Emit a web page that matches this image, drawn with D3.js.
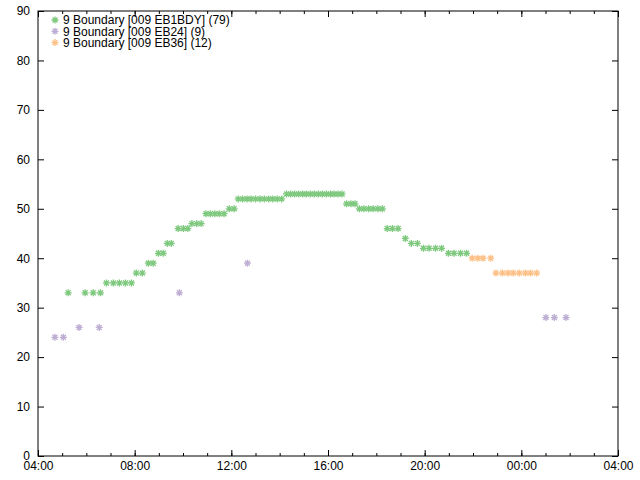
<!DOCTYPE html>
<html>
<head>
<meta charset="utf-8">
<script src="https://cdn.jsdelivr.net/npm/d3@7"></script>
<style>
    body { margin: 0; background: #fff; }
    svg { display: block; font-family: "Liberation Sans", Arial, sans-serif; }
</style>
</head>
<body>
<div id="chart"></div>
<script>
// series names and colours
const seriesNames = ['9 Boundary [009 EB1BDY] (79)', '9 Boundary [009 EB24] (9)', '9 Boundary [009 EB36] (12)'];
const seriesColors = ['#7fc97f', '#beaed4', '#fdc086'];

// 009 EB1BDY
const eb1bdyTimes = ['05:15', '05:57', '06:17', '06:35', '06:50', '07:07', '07:22', '07:37', '07:52', '08:04',
    '08:19', '08:34', '08:46', '08:59', '09:11', '09:21', '09:31', '09:48', '10:01', '10:12',
    '10:22', '10:34', '10:45', '10:57', '11:08', '11:19', '11:30', '11:42', '11:55', '12:07',
    '12:17', '12:28', '12:39', '12:49', '13:00', '13:11', '13:22', '13:33', '13:43', '13:54', '14:05',
    '14:17', '14:27', '14:37', '14:47', '14:57', '15:06', '15:16', '15:26', '15:36', '15:46', '15:56', '16:06', '16:15', '16:25', '16:35',
    '16:46', '16:57', '17:07', '17:18', '17:29', '17:41', '17:52', '18:04', '18:15',
    '18:27', '18:40', '18:54', '19:12', '19:27', '19:42', '19:57', '20:11', '20:27', '20:42',
    '20:59', '21:13', '21:29', '21:44'];
const eb1bdyValues = [33, 33, 33, 33, 35, 35, 35, 35, 35, 37,
    37, 39, 39, 41, 41, 43, 43, 46, 46, 46,
    47, 47, 47, 49, 49, 49, 49, 49, 50, 50,
    52, 52, 52, 52, 52, 52, 52, 52, 52, 52, 52,
    53, 53, 53, 53, 53, 53, 53, 53, 53, 53, 53, 53, 53, 53, 53,
    51, 51, 51, 50, 50, 50, 50, 50, 50,
    46, 46, 46, 44, 43, 43, 42, 42, 42, 42,
    41, 41, 41, 41];

// 009 EB24
const eb24Times = ['04:42', '05:03', '05:42', '06:32', '09:51', '12:40', '01:01', '01:22', '01:51'];
const eb24Values = [24, 24, 26, 26, 33, 39, 28, 28, 28];

// 009 EB36
const eb36Times = ['21:58', '22:12', '22:25', '22:44', '22:57', '23:13', '23:27', '23:40', '23:55', '00:10', '00:23', '00:38'];
const eb36Values = [40, 40, 40, 40, 37, 37, 37, 37, 37, 37, 37, 37];

const yTicks = [0, 10, 20, 30, 40, 50, 60, 70, 80, 90];

const parseTime = d3.timeParse('%Y-%m-%d %H:%M');
function toDate(t) {
    // times before 04:00 belong to the next day
    const day = +t.slice(0, 2) < 4 ? '2000-01-02' : '2000-01-01';
    return parseTime(day + ' ' + t);
}

function makeSeries(times, values) {
    return times.map((t, i) => ({ date: toDate(t), value: values[i] }));
}

const seriesData = [
    makeSeries(eb1bdyTimes, eb1bdyValues),
    makeSeries(eb24Times, eb24Values),
    makeSeries(eb36Times, eb36Values)
];

function createChart() {
    const margin = {top: 11, right: 22, bottom: 24, left: 38};
    const width = 640 - margin.left - margin.right;
    const height = 480 - margin.top - margin.bottom;

    const svg = d3.select('#chart')
        .append('svg')
        .attr('width', 640)
        .attr('height', 480)
        .append('g')
        .attr('transform', `translate(${margin.left},${margin.top})`);

    const x = d3.scaleTime()
        .domain([parseTime('2000-01-01 04:00'), parseTime('2000-01-02 04:00')])
        .range([0, width]);

    const y = d3.scaleLinear()
        .domain([0, 90])
        .range([height, 0]);

    const fmt = d3.timeFormat('%H:%M');
    const majorX = x.ticks(d3.timeHour.every(4));
    const minorX = x.ticks(d3.timeHour.every(1));

    // bottom axis with labels, ticks pointing inward
    const bottom = svg.append('g')
        .attr('transform', `translate(0,${height})`)
        .call(d3.axisBottom(x).tickValues(majorX).tickFormat(fmt).tickSize(-6).tickPadding(4));
    bottom.selectAll('text').attr('dy', '0.71em').attr('y', 5);
    svg.append('g')
        .attr('transform', `translate(0,${height})`)
        .call(d3.axisBottom(x).tickValues(minorX).tickFormat('').tickSize(-3));

    // mirrored top ticks
    svg.append('g')
        .call(d3.axisTop(x).tickValues(majorX).tickFormat('').tickSize(-6));
    svg.append('g')
        .call(d3.axisTop(x).tickValues(minorX).tickFormat('').tickSize(-3));

    // left axis with labels, right mirrored
    svg.append('g')
        .call(d3.axisLeft(y).tickValues(yTicks).tickSize(-6).tickPadding(8));
    svg.append('g')
        .attr('transform', `translate(${width},0)`)
        .call(d3.axisRight(y).tickValues(yTicks).tickFormat('').tickSize(-6));

    svg.selectAll('.domain').remove();
    svg.selectAll('.tick line').attr('stroke', '#000');
    svg.selectAll('.tick text')
        .attr('fill', '#000')
        .style('font-size', '12px')
        .style('font-family', '"Liberation Sans", Arial, sans-serif');

    // border
    svg.append('rect')
        .attr('width', width)
        .attr('height', height)
        .attr('fill', 'none')
        .attr('stroke', '#000')
        .attr('stroke-width', 1);

    // asterisk marker: plus and cross combined
    const star = 'M-3.5,0L3.5,0M0,-3.5L0,3.5M-2.5,-2.5L2.5,2.5M-2.5,2.5L2.5,-2.5';

    seriesData.forEach((data, i) => {
        svg.append('g')
            .selectAll('path')
            .data(data)
            .enter()
            .append('path')
            .attr('d', star)
            .attr('transform', d => `translate(${x(d.date)},${y(d.value)})`)
            .attr('fill', 'none')
            .attr('stroke', seriesColors[i])
            .attr('stroke-width', 1.3);
    });

    // legend
    const legend = svg.append('g')
        .attr('transform', 'translate(17,9)');
    seriesNames.forEach((name, i) => {
        const row = legend.append('g').attr('transform', `translate(0,${i * 11.3})`);
        row.append('path')
            .attr('d', star)
            .attr('fill', 'none')
            .attr('stroke', seriesColors[i])
            .attr('stroke-width', 1.3);
        row.append('text')
            .attr('x', 8)
            .attr('dy', '0.35em')
            .style('font-size', '12px')
            .text(name);
    });
}

createChart();
</script>
</body>
</html>
